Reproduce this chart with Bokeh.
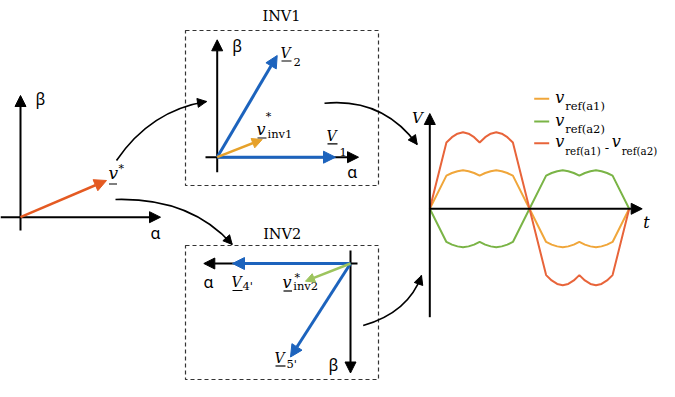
from bokeh.plotting import figure
from bokeh.models import Range1d, Arrow, NormalHead
from bokeh.core.properties import value
from bokeh.embed import file_html
from bokeh.resources import INLINE

# ---------------- waveform data (electrical angle in degrees, per-unit) -------------
t_deg = [0, 30, 40, 50, 60, 70, 80, 90, 100, 110, 120, 130, 140, 150, 180,
         210, 220, 230, 240, 250, 260, 270, 280, 290, 300, 310, 320, 330, 360]
v_ref_a1 = [0, 0.75, 0.81, 0.85, 0.87, 0.85, 0.81, 0.75, 0.81, 0.85, 0.87, 0.85, 0.81, 0.75, 0,
            -0.75, -0.81, -0.85, -0.87, -0.85, -0.81, -0.75, -0.81, -0.85, -0.87, -0.85, -0.81, -0.75, 0]
v_ref_a2 = [0, -0.75, -0.81, -0.85, -0.87, -0.85, -0.81, -0.75, -0.81, -0.85, -0.87, -0.85, -0.81, -0.75, 0,
            0.75, 0.81, 0.85, 0.87, 0.85, 0.81, 0.75, 0.81, 0.85, 0.87, 0.85, 0.81, 0.75, 0]
v_ref_diff = [0, 1.50, 1.62, 1.70, 1.73, 1.70, 1.62, 1.50, 1.62, 1.70, 1.73, 1.70, 1.62, 1.50, 0,
              -1.50, -1.62, -1.70, -1.73, -1.70, -1.62, -1.50, -1.62, -1.70, -1.73, -1.70, -1.62, -1.50, 0]
legend_labels = [("ref(a1)",), ("ref(a2)",), ("ref(a1)", "ref(a2)")]

# ---------------- diagram vectors (x0, y0, x1, y1) in sheet coordinates -------------
left_axes = [(0, 216.7, 160, 216.7), (20, 230, 20, 95)]
left_vref = (20, 216.7, 106, 180)
inv1_axes = [(216.7, 171.7, 216.7, 39.3), (205, 156.7, 358, 156.7)]
inv1_V = [(216.7, 156.7, 335, 156.7), (216.7, 156.7, 276.7, 55)]
inv1_vref = (216.7, 156.7, 261.7, 139)
inv2_axes = [(357, 263, 203.3, 263), (350, 250, 350, 372.5)]
inv2_V = [(350, 263, 232, 263), (350, 263, 290, 356.5)]
inv2_vref = (350, 263, 305, 280.7)
wave_axes = [(429.3, 316.7, 429.3, 113), (429.3, 208.3, 641.7, 208.3)]
# curved connectors: start, control, end
curves = [((116, 160), (150, 110), (206, 101)),
          ((115, 199), (190, 197), (231.7, 244)),
          ((324, 102.7), (382, 97), (416.7, 144)),
          ((362.7, 325), (408, 312), (421, 275))]
boxes = [(185, 378, 30, 185), (185, 378, 245, 379)]

BLUE = "#1c63bd"
C_A1 = "#f0a63a"
C_A2 = "#7ab446"
C_DF = "#e8643a"

W, H = 659, 381
p = figure(width=W, height=H, x_range=Range1d(0, W), y_range=Range1d(H, 0),
           output_backend="svg", toolbar_location=None, min_border=0)
p.axis.visible = False
p.grid.visible = False
p.outline_line_color = None
p.background_fill_color = "white"

# waveform scales: t=0 at sheet x=429.3, 180 deg per 99.7 px; v=0 at sheet y=208.3, 44.2 px per unit
k = 180 / 99.7
p.extra_x_ranges = {"t": Range1d(-429.3 * k, (W - 429.3) * k)}
p.extra_y_ranges = {"v": Range1d(-(H - 208.3) / 44.2, 208.3 / 44.2)}


def arrow(seg, color, width, size):
    x0, y0, x1, y1 = seg
    p.add_layout(Arrow(end=NormalHead(size=size, fill_color=color, line_color=color, line_width=1),
                       x_start=x0, y_start=y0, x_end=x1, y_end=y1,
                       line_color=color, line_width=width))


DESC = {"DejaVu Serif": 0.236, "Noto Sans": 0.293}


def txt(x, base, s, size, font="DejaVu Serif", style="normal", align="left", color="black"):
    # place by alphabetic baseline, via the bottom (descent) anchor
    p.text(x=[x], y=[base + DESC[font] * size], text=[s], text_font=value(font),
           text_font_size=f"{size}px", text_font_style=style, text_align=align,
           text_baseline="bottom", text_color=color)


def uline(x0, x1, y):
    p.segment(x0=[x0], y0=[y], x1=[x1], y1=[y], line_color="black", line_width=1.2)


# dashed boxes
for l, r, t, b in boxes:
    p.quad(left=[l], right=[r], top=[t], bottom=[b], fill_color=None,
           line_color="#333333", line_width=1.2, line_dash="4 3")

# curved connectors
for (s, c, e) in curves:
    p.quadratic(x0=[s[0]], y0=[s[1]], x1=[e[0]], y1=[e[1]], cx=[c[0]], cy=[c[1]],
                line_color="black", line_width=1.6)
    dx, dy = e[0] - c[0], e[1] - c[1]
    n = (dx * dx + dy * dy) ** 0.5
    arrow((e[0] - 4 * dx / n, e[1] - 4 * dy / n, e[0], e[1]), "black", 1.6, 9)

# axes
for seg in left_axes + inv1_axes + inv2_axes + wave_axes:
    arrow(seg, "black", 2, 11)

# vectors
arrow(left_vref, "#e45a22", 2.5, 12)
for seg in inv1_V + inv2_V:
    arrow(seg, BLUE, 3, 12)
arrow(inv1_vref, "#e6a12a", 2.5, 10)
arrow(inv2_vref, "#9dc45e", 2.5, 9)

# waveforms
p.line(t_deg, v_ref_a1, x_range_name="t", y_range_name="v", line_color=C_A1, line_width=2)
p.line(t_deg, v_ref_a2, x_range_name="t", y_range_name="v", line_color=C_A2, line_width=2)
p.line(t_deg, v_ref_diff, x_range_name="t", y_range_name="v", line_color=C_DF, line_width=2)

# ---------------- texts ----------------
GREEK = "Noto Sans"
# left frame
txt(40, 105, "β", 16, GREEK, align="center")
txt(155, 239, "α", 16, GREEK, align="center")
txt(108, 178, "v", 17, style="italic")
uline(108.5, 116.5, 183.5)
txt(120.7, 172, "*", 11, align="center")

# INV1
txt(281, 20, "INV1", 14.5, align="center")
txt(236.7, 52, "β", 16, GREEK, align="center")
txt(351.7, 178, "α", 16, GREEK, align="center")
txt(280, 57.5, "V", 14, style="italic")
uline(281, 291, 60.5)
txt(293, 62.5, "2", 11.5)
txt(326, 140.5, "V", 14, style="italic")
uline(327, 337, 143.3)
txt(339, 152.5, "1", 11.5)
txt(256, 134.5, "v", 16, style="italic")
uline(257, 266, 137.5)
txt(268, 120, "*", 11, align="center")
txt(267, 137.5, "inv1", 11.5)

# INV2
txt(281.7, 238, "INV2", 14.5, align="center")
txt(208, 288, "α", 16, GREEK, align="center")
txt(333, 370.7, "β", 16, GREEK, align="center")
txt(231, 286.5, "V", 14, style="italic")
uline(232, 242, 290)
txt(242, 289.5, "4'", 11.5)
txt(282, 287.5, "v", 16, style="italic")
uline(283, 291.5, 290.5)
txt(296.7, 281, "*", 11, align="center")
txt(292.7, 289.5, "inv2", 11.5)
txt(274, 362.5, "V", 14, style="italic")
uline(275, 285, 365.5)
txt(286, 367.7, "5'", 11.5)

# waveform axes labels
txt(417, 123, "V", 15, style="italic", align="center")
txt(646, 228, "t", 16, style="italic", align="center")

# legend
LX = 533.7
leg_rows = [(98.3, C_A1), (121, C_A2), (142.7, C_DF)]
for (ly, col), labs in zip(leg_rows, legend_labels):
    p.segment(x0=[LX], y0=[ly], x1=[LX + 15], y1=[ly], line_color=col, line_width=2)
    txt(LX + 21, ly + 4.5, "v", 16, style="italic")
    if len(labs) == 1:
        txt(LX + 31, ly + 11.5, labs[0], 11.5)
    else:
        txt(LX + 31, ly + 11.5, labs[0], 10.3)
        txt(LX + 70.5, ly + 6, "-", 13)
        txt(LX + 77.5, ly + 4.5, "v", 16, style="italic")
        txt(LX + 87.5, ly + 11.5, labs[1], 10.3)

open("out.html", "w").write(file_html(p, INLINE))
